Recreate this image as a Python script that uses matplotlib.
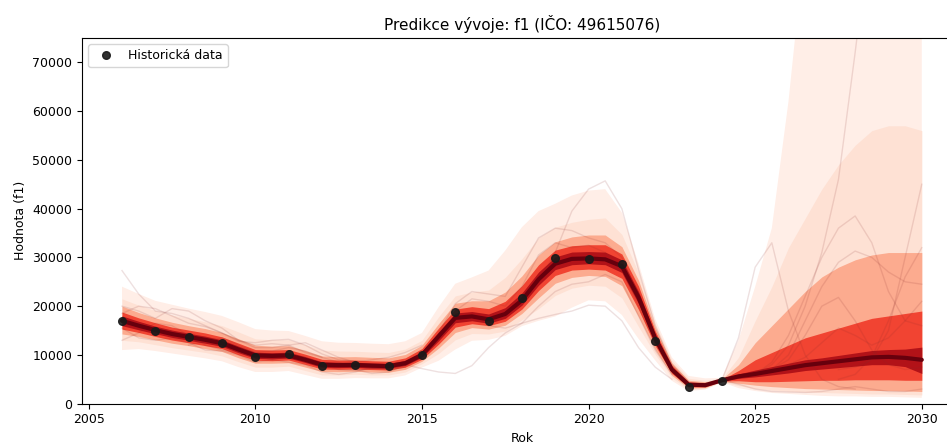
import numpy as np
import matplotlib
matplotlib.use("Agg")
import matplotlib.pyplot as plt

# historical observations
rok = [2006, 2007, 2008, 2009, 2010, 2011, 2012, 2013, 2014, 2015,
       2016, 2017, 2018, 2019, 2020, 2021, 2022, 2023, 2024]
hodnota = [17000, 15000, 13600, 12450, 9550, 10100, 7800, 8000, 7650, 9950,
           18900, 17000, 21600, 29800, 29650, 28700, 12900, 3400, 4700]

# half-year grid for the predictive bands
t = np.arange(2006.0, 2030.01, 0.5)

med = [17000, 16000, 15100, 14300, 13700, 13100, 12400, 11100, 9900, 9800, 9900, 9000, 8000, 7900, 7950, 7800, 7700, 8300, 10000,
       13800, 17600, 17900, 17300, 18400, 21200, 25500, 28700, 29700, 29800, 29600, 28200, 21800, 13400, 7000, 3900, 3800, 4800,
       5600, 6100, 6700, 7300, 7900, 8300, 8700, 9100, 9500, 9600, 9400, 9000]

# outer -> inner quantile bands (upper, lower)
b1_hi = [24000, 22500, 21100, 20300, 19500, 18800, 18000, 16700, 15300, 15000, 14900, 13900, 12800, 12500, 12450, 12300, 12200, 12800, 14500,
         19800, 24600, 25900, 27300, 31400, 36200, 39500, 41000, 42700, 43700, 44000, 39200, 28800, 17400, 9500, 5700, 5200, 5300,
         13000, 24000, 36000, 62000, 95000, 95000, 95000, 95000, 95000, 95000, 95000, 95000]
b1_lo = [11000, 11200, 10800, 10300, 9800, 9300, 8700, 7500, 6500, 6500, 6700, 5900, 5100, 5100, 5250, 5200, 5200, 5800, 7400,
         8800, 11100, 12900, 13100, 13900, 15900, 17000, 17900, 19700, 21200, 21000, 18200, 13300, 8900, 4700, 2600, 2900, 4400,
         3200, 2600, 2200, 2000, 1800, 1600, 1500, 1500, 1400, 1400, 1300, 1200]
b2_hi = [21500, 20200, 19100, 18200, 17500, 16800, 16000, 14700, 13300, 13100, 13100, 12100, 11000, 10800, 10750, 10600, 10500, 11200, 13000,
         17800, 22100, 22900, 23300, 25900, 29700, 34000, 36200, 37200, 37800, 38100, 34700, 26800, 16400, 8900, 5200, 4800, 5150,
         9500, 17000, 24000, 32000, 38000, 44000, 49000, 53000, 56000, 57000, 57000, 56000]
b2_lo = [13000, 12700, 12100, 11500, 11000, 10500, 9800, 8600, 7500, 7500, 7700, 6800, 5900, 5900, 6050, 5900, 5900, 6500, 8200,
         10300, 13100, 14400, 14300, 14900, 17200, 19500, 22200, 23700, 24300, 24100, 21700, 15800, 10100, 5300, 2900, 3100, 4500,
         3700, 3100, 2800, 2600, 2400, 2300, 2200, 2100, 2000, 2000, 1900, 1800]
b3_hi = [20000, 18700, 17600, 16700, 16000, 15400, 14600, 13300, 12000, 11800, 11900, 10900, 9800, 9600, 9650, 9500, 9400, 10100, 12000,
         16400, 20600, 21100, 21100, 22900, 26200, 30500, 33200, 34200, 34600, 34600, 32200, 25300, 15600, 8400, 4800, 4500, 5050,
         8000, 12500, 16000, 19500, 23000, 26000, 28000, 29500, 30500, 31000, 31000, 31000]
b3_lo = [14300, 13800, 13100, 12400, 11900, 11300, 10700, 9400, 8300, 8300, 8400, 7500, 6600, 6550, 6650, 6500, 6450, 7050, 8700,
         11400, 14600, 15600, 15300, 16100, 18500, 21700, 24700, 25900, 26300, 26100, 24200, 17800, 11100, 5800, 3200, 3300, 4600,
         4200, 3800, 3500, 3300, 3100, 3000, 2900, 2800, 2700, 2700, 2600, 2500]
b4_hi = [18800, 17600, 16600, 15700, 15100, 14500, 13700, 12400, 11100, 11000, 11100, 10150, 9100, 8950, 8950, 8800, 8700, 9400, 11300,
         15500, 19400, 19900, 19500, 21000, 24200, 28500, 31500, 32400, 32600, 32600, 30700, 24100, 14900, 7900, 4500, 4250, 4950,
         6800, 9000, 10500, 12000, 13500, 14500, 15500, 16500, 17500, 18000, 18500, 19000]
b4_lo = [15300, 14600, 13800, 13050, 12500, 11900, 11300, 10000, 8900, 8800, 8950, 8050, 7100, 7050, 7100, 7000, 6900, 7500, 9100,
         12200, 15700, 16400, 16000, 16900, 19400, 23200, 26300, 27400, 27600, 27400, 25700, 19300, 11900, 6200, 3450, 3450, 4650,
         4700, 4500, 4500, 4600, 4700, 4800, 4800, 4900, 4900, 4900, 4800, 4800]
b5_hi = [18000, 16900, 15900, 15100, 14450, 13850, 13100, 11800, 10550, 10450, 10550, 9650, 8600, 8500, 8500, 8350, 8250, 8900, 10700,
         14700, 18600, 18900, 18400, 19700, 22700, 27000, 30100, 31100, 31200, 31100, 29500, 23000, 14200, 7500, 4250, 4050, 4900,
         6100, 6900, 7600, 8300, 9000, 9400, 9900, 10400, 10900, 11100, 11200, 11600]
b5_lo = [16000, 15150, 14350, 13600, 13000, 12400, 11750, 10450, 9300, 9200, 9350, 8450, 7450, 7400, 7450, 7300, 7250, 7850, 9500,
         12900, 16600, 17000, 16500, 17500, 20200, 24300, 27500, 28500, 28700, 28500, 26900, 20500, 12600, 6550, 3600, 3600, 4700,
         5200, 5500, 5900, 6300, 6800, 7100, 7400, 7700, 8000, 8000, 7600, 6200]

# individual sampled trajectories
s1_x = [2006, 2006.5, 2007, 2007.5, 2008, 2008.5, 2009, 2009.5, 2010, 2010.5, 2011, 2011.5, 2012]
s1_y = [27300, 22500, 19000, 18500, 17500, 16000, 14500, 13000, 12000, 12300, 12000, 10500, 9500]
s2_x = [2006, 2006.5, 2007, 2007.5, 2008, 2008.5, 2009, 2009.5, 2010, 2010.5, 2011, 2011.5, 2012, 2012.5, 2013, 2013.5, 2014]
s2_y = [13000, 14500, 16500, 16000, 14000, 12000, 11000, 10500, 10000, 9000, 8500, 8000, 6500, 6000, 6500, 7500, 8000]
s3_x = [2006, 2006.5, 2007, 2007.5, 2008, 2008.5, 2009, 2009.5, 2010, 2010.5, 2011, 2011.5, 2012, 2012.5, 2013, 2013.5, 2014, 2014.5, 2015]
s3_y = [20000, 19000, 17500, 19500, 19000, 17000, 15500, 13000, 11500, 11500, 12000, 12500, 11000, 9500, 8500, 9000, 9500, 10500, 12000]
s4_x = [2006, 2006.5, 2007, 2007.5, 2008, 2008.5, 2009, 2009.5, 2010, 2010.5, 2011, 2011.5, 2012, 2012.5, 2013, 2013.5, 2014, 2014.5]
s4_y = [15500, 13500, 13000, 13500, 12500, 11000, 10800, 10000, 8500, 9000, 10000, 9500, 8000, 7000, 6800, 7200, 7000, 7500]
s5_x = [2018, 2018.5, 2019, 2019.5, 2020, 2020.5, 2021, 2021.5, 2022, 2022.5, 2023]
s5_y = [21000, 25000, 31000, 39500, 44000, 45700, 40000, 27500, 16000, 8000, 4500]
s6_x = [2014.5, 2015, 2015.5, 2016, 2016.5, 2017, 2017.5, 2018, 2018.5, 2019, 2019.5, 2020, 2020.5, 2021, 2021.5, 2022, 2022.5]
s6_y = [8000, 7200, 6500, 6200, 7800, 11500, 14500, 16500, 17500, 18300, 19000, 20200, 20000, 17000, 11500, 7500, 5000]
s7_x = [2015.5, 2016, 2016.5, 2017, 2017.5, 2018, 2018.5, 2019, 2019.5, 2020, 2020.5, 2021, 2021.5, 2022, 2022.5]
s7_y = [14500, 20500, 23000, 22500, 22000, 28000, 34000, 36000, 35500, 34000, 33000, 30000, 22000, 13000, 7000]
s8_x = [2017, 2017.5, 2018, 2018.5, 2019, 2019.5, 2020, 2020.5, 2021, 2021.5, 2022, 2022.5]
s8_y = [16000, 15500, 16500, 20000, 23000, 24500, 25000, 26500, 25000, 18000, 11000, 6000]
s9_x = [2024, 2024.5, 2025, 2025.5, 2026, 2026.5, 2027, 2027.5, 2028]
s9_y = [4800, 13500, 28000, 33000, 19000, 10000, 5000, 3500, 3000]
s10_x = [2024, 2024.5, 2025, 2025.5, 2026, 2026.5, 2027, 2027.5, 2028, 2028.5]
s10_y = [4800, 5200, 6000, 8000, 12000, 20000, 31000, 46000, 72000, 100000]
s11_x = [2025, 2025.5, 2026, 2026.5, 2027, 2027.5, 2028, 2028.5, 2029, 2029.5, 2030]
s11_y = [6000, 8500, 14000, 22000, 30000, 36000, 38500, 33000, 23000, 17000, 16000]
s12_x = [2025.5, 2026, 2026.5, 2027, 2027.5, 2028, 2028.5, 2029, 2029.5, 2030]
s12_y = [7000, 10000, 17000, 24000, 29000, 31300, 30000, 27000, 25000, 24500]
s13_x = [2025.5, 2026, 2026.5, 2027, 2027.5, 2028, 2028.5, 2029, 2029.5, 2030]
s13_y = [7000, 9000, 14000, 20000, 21800, 17000, 11000, 8000, 7000, 7500]
s14_x = [2027.5, 2028, 2028.5, 2029, 2029.5, 2030]
s14_y = [7000, 7500, 9000, 15000, 30000, 45000]
s15_x = [2027.5, 2028, 2028.5, 2029, 2029.5, 2030]
s15_y = [5000, 6000, 9500, 17000, 26000, 32000]
s16_x = [2024, 2024.5, 2025, 2025.5, 2026, 2026.5, 2027, 2027.5, 2028, 2028.5, 2029, 2029.5, 2030]
s16_y = [4800, 4000, 3000, 2500, 2400, 2300, 2500, 3000, 3500, 3000, 2500, 2500, 3000]
s17_x = [2006, 2006.5, 2007, 2007.5, 2008, 2008.5, 2009, 2009.5, 2010, 2010.5, 2011, 2011.5, 2012, 2012.5, 2013]
s17_y = [18500, 20000, 19500, 18000, 16500, 15800, 14500, 12800, 12500, 13000, 13200, 12000, 10200, 9000, 8700]
s18_x = [2008, 2008.5, 2009, 2009.5, 2010, 2010.5, 2011, 2011.5, 2012, 2012.5, 2013, 2013.5, 2014, 2014.5, 2015]
s18_y = [12000, 12800, 13500, 12000, 10500, 10800, 11500, 10800, 9500, 8500, 7000, 6200, 6500, 8000, 10500]
s19_x = [2016, 2016.5, 2017, 2017.5, 2018, 2018.5, 2019, 2019.5, 2020, 2020.5, 2021, 2021.5, 2022]
s19_y = [19000, 21500, 21000, 20000, 24000, 30500, 33000, 32000, 32500, 31000, 27500, 20000, 12500]
s20_x = [2026, 2026.5, 2027, 2027.5, 2028, 2028.5, 2029, 2029.5, 2030]
s20_y = [8000, 9500, 12500, 15500, 14000, 12000, 13500, 17000, 21000]

bands = [(b1_lo, b1_hi), (b2_lo, b2_hi), (b3_lo, b3_hi), (b4_lo, b4_hi), (b5_lo, b5_hi)]
samples = [(s1_x, s1_y), (s2_x, s2_y), (s3_x, s3_y), (s4_x, s4_y), (s5_x, s5_y), (s6_x, s6_y),
           (s7_x, s7_y), (s8_x, s8_y), (s9_x, s9_y), (s10_x, s10_y), (s11_x, s11_y), (s12_x, s12_y),
           (s13_x, s13_y), (s14_x, s14_y), (s15_x, s15_y), (s16_x, s16_y), (s17_x, s17_y),
           (s18_x, s18_y), (s19_x, s19_y), (s20_x, s20_y)]

cmap = plt.get_cmap("Reds")
shades = [0.04, 0.12, 0.3, 0.6, 0.83]

fig = plt.figure(figsize=(9.47, 4.44), dpi=100)
ax = fig.add_axes([0.0866, 0.0908, 0.929, 0.8236])

for (lo, hi), c in zip(bands, shades):
    ax.fill_between(t, lo, hi, color=cmap(c), lw=0)

for sx, sy in samples:
    ax.plot(sx, sy, color="#8a2a2a", alpha=0.14, lw=1)

ax.plot(t, med, color="#67000d", lw=3, solid_capstyle="round")
ax.plot(rok, hodnota, "o", color="#1a1a1a", ms=5.5, alpha=0.9, label="Historická data", zorder=5)

ax.set_ylim(0, 75000)
ax.set_xlim(2004.8, 2031.2)
ax.set_xticks([2005, 2010, 2015, 2020, 2025, 2030])
ax.tick_params(labelsize=9)
ax.set_xlabel("Rok", fontsize=9)
ax.set_ylabel("Hodnota (f1)", fontsize=9)
ax.set_title("Predikce vývoje: f1 (IČO: 49615076)", fontsize=11)
ax.legend(loc="upper left", fontsize=9)

fig.savefig("out.png", dpi=100)
